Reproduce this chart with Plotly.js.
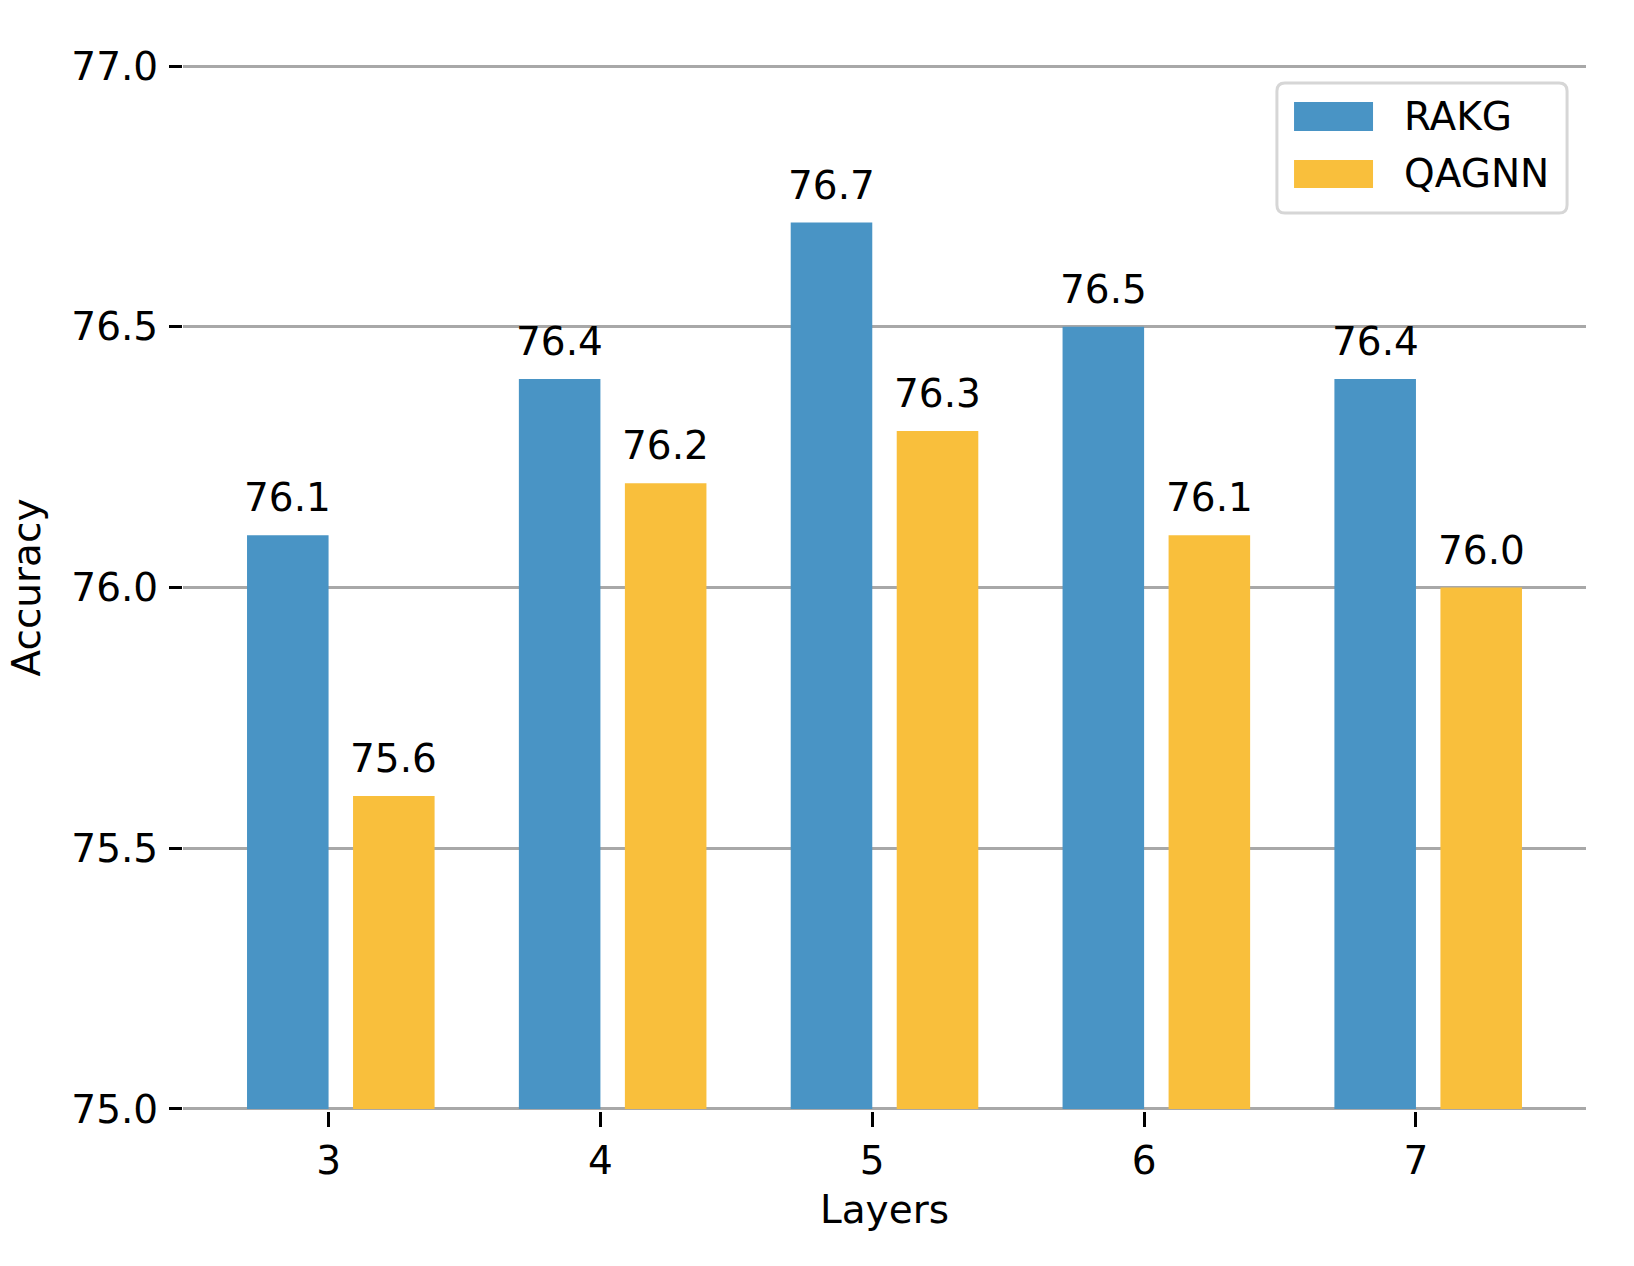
<!DOCTYPE html>
<html>
<head>
<meta charset="utf-8">
<script src="https://cdn.plot.ly/plotly-3.0.1.min.js"></script>
<style>html,body{margin:0;padding:0;background:#fff;}#chart{width:1634px;height:1266px;}</style>
</head>
<body>
<div id="chart"></div>
<script>
// ---- data ----
const layers = [3, 4, 5, 6, 7];
const seriesNames = ["RAKG", "QAGNN"];
const rakg = [76.1, 76.4, 76.7, 76.5, 76.4];
const qagnn = [75.6, 76.2, 76.3, 76.1, 76.0];
const yTicks = [75.0, 75.5, 76.0, 76.5, 77.0];

// ---- style ----
const colors = ["#4994c5", "#f9bf3c"];
const barWidth = 0.3;
const offsets = [-0.3, 0.09];
const FONT = "DejaVu Sans, sans-serif";
const FS = 39;
const BASE = 75;

const seriesVals = [rakg, qagnn];
const traces = seriesVals.map((vals, i) => ({
  type: "bar",
  name: seriesNames[i],
  x: layers,
  base: BASE,
  y: vals.map(v => v - BASE),
  width: barWidth,
  offset: offsets[i],
  marker: {color: colors[i], line: {width: 0}},
  showlegend: false,
  hoverinfo: "skip"
}));

// value labels
const annotations = [];
seriesVals.forEach((vals, i) => {
  vals.forEach((v, j) => {
    annotations.push({
      x: layers[j] + offsets[i] + barWidth / 2,
      y: v,
      xref: "x", yref: "y",
      text: v.toFixed(1),
      showarrow: false,
      xanchor: "center", yanchor: "bottom",
      yshift: 13,
      font: {family: FONT, size: FS, color: "#000"}
    });
  });
});

// custom legend (layout positions only)
const L = {x0: 0.7797, x1: 0.9865, y0: 0.8577, y1: 0.9819, rx: 0.0057, ry: 0.0077};
const shapes = [{
  type: "path", xref: "paper", yref: "paper",
  path: `M ${L.x0 + L.rx} ${L.y0} L ${L.x1 - L.rx} ${L.y0} Q ${L.x1} ${L.y0} ${L.x1} ${L.y0 + L.ry} ` +
        `L ${L.x1} ${L.y1 - L.ry} Q ${L.x1} ${L.y1} ${L.x1 - L.rx} ${L.y1} ` +
        `L ${L.x0 + L.rx} ${L.y1} Q ${L.x0} ${L.y1} ${L.x0} ${L.y1 - L.ry} ` +
        `L ${L.x0} ${L.y0 + L.ry} Q ${L.x0} ${L.y0} ${L.x0 + L.rx} ${L.y0} Z`,
  line: {color: "#d6d6d6", width: 3},
  fillcolor: "rgba(255,255,255,0.9)",
  layer: "above"
}];
const swY = [[0.9360, 0.9637], [0.8816, 0.9083]];
seriesNames.forEach((nm, i) => {
  shapes.push({
    type: "rect", xref: "paper", yref: "paper",
    x0: 0.7919, x1: 0.8482, y0: swY[i][0], y1: swY[i][1],
    fillcolor: colors[i], line: {width: 0}, layer: "above"
  });
  annotations.push({
    xref: "paper", yref: "paper",
    x: 0.8687, y: (swY[i][0] + swY[i][1]) / 2,
    xanchor: "left", yanchor: "middle",
    text: nm, showarrow: false,
    font: {family: FONT, size: FS, color: "#000"}
  });
});

const layout = {
  width: 1634, height: 1266,
  margin: {l: 183, r: 48, t: 64, b: 155},
  paper_bgcolor: "#fff", plot_bgcolor: "#fff",
  font: {family: FONT, size: FS, color: "#000"},
  barmode: "overlay",
  showlegend: false,
  xaxis: {
    range: [2.4645, 7.6255],
    tickvals: layers,
    ticktext: layers.map(String),
    ticks: "outside", ticklen: 15, tickwidth: 3, tickcolor: "#000",
    showgrid: false, zeroline: false, showline: false,
    tickfont: {family: FONT, size: FS},
    title: {text: "Layers", font: {family: FONT, size: FS}, standoff: 13}
  },
  yaxis: {
    range: [74.996, 77.004],
    tickvals: yTicks,
    ticktext: yTicks.map(v => v.toFixed(1)),
    ticks: "outside", ticklen: 13, tickwidth: 3, tickcolor: "#000",
    showgrid: true, gridcolor: "#a8a8a8", gridwidth: 3,
    zeroline: false, showline: false,
    tickfont: {family: FONT, size: FS},
    ticklabelstandoff: 3,
    title: {text: "Accuracy", font: {family: FONT, size: FS}, standoff: 18}
  },
  annotations: annotations,
  shapes: shapes
};

Plotly.newPlot("chart", traces, layout, {displayModeBar: false, staticPlot: true});
</script>
</body>
</html>
